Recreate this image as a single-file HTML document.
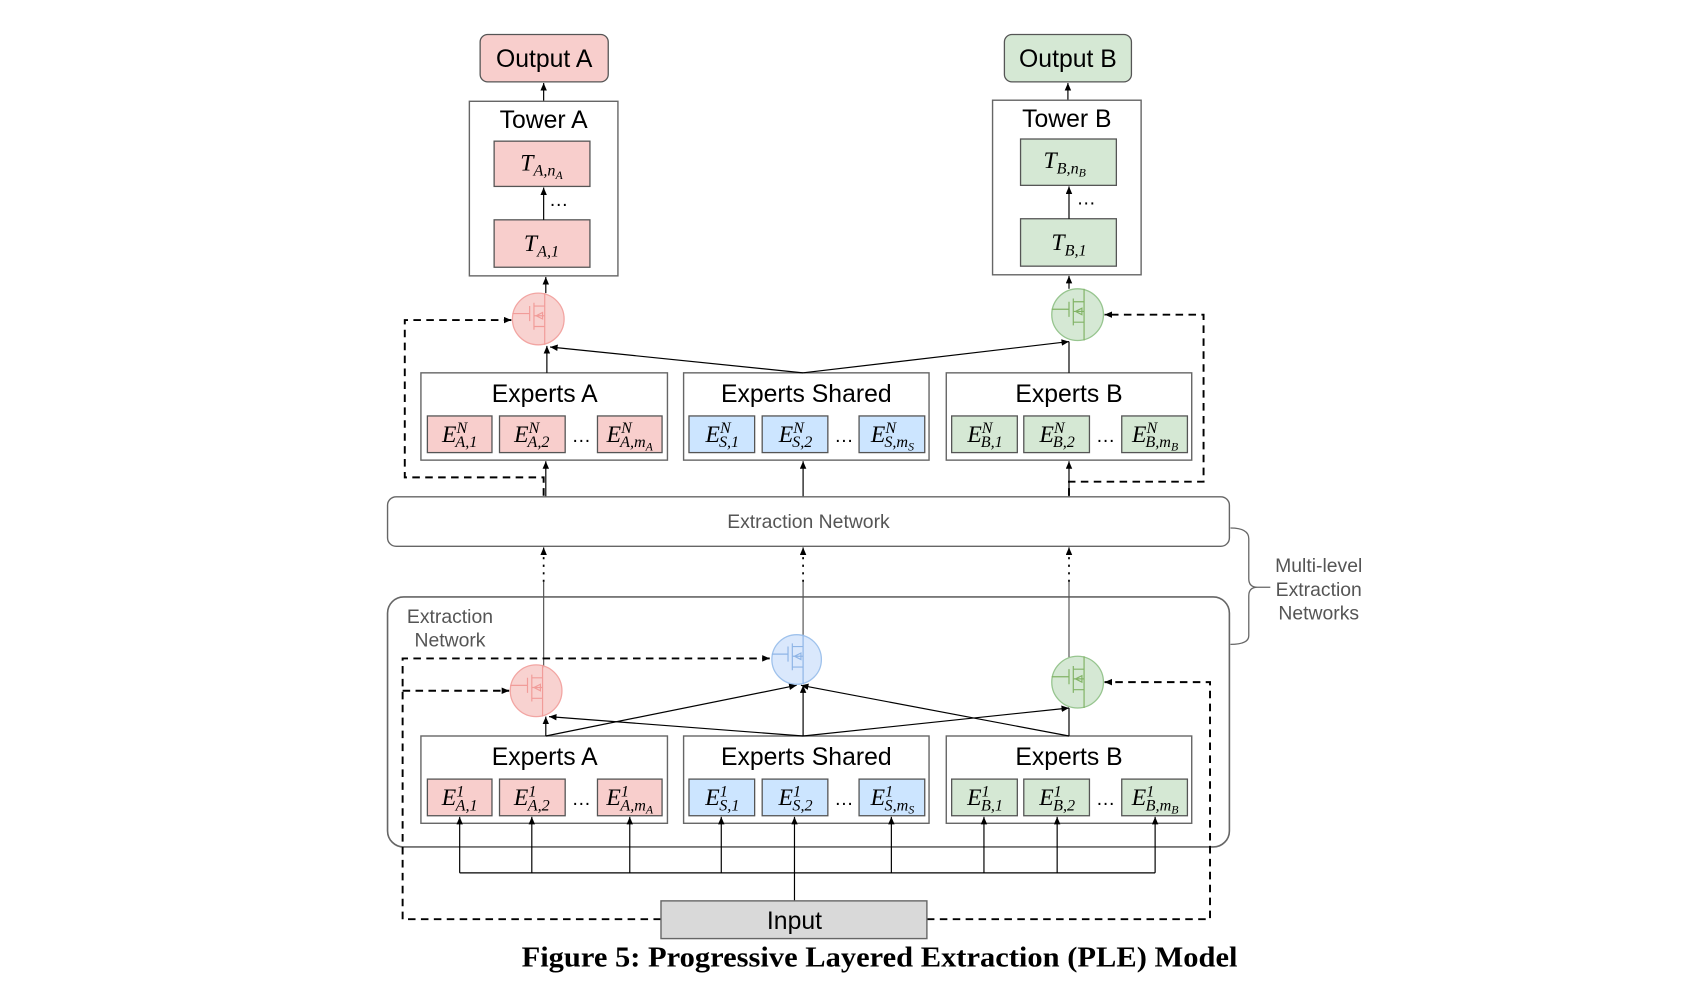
<!DOCTYPE html>
<html><head><meta charset="utf-8"><style>
html,body{margin:0;padding:0;background:#fff;width:1688px;height:986px;overflow:hidden}
svg{display:block}
.t{font-family:"Liberation Sans",sans-serif;font-size:23px;fill:#000;text-anchor:middle}
.g{font-family:"Liberation Sans",sans-serif;font-size:18px;fill:#555;text-anchor:middle}
.m{font-family:"Liberation Serif",serif;font-style:italic;font-size:22px;text-anchor:middle;fill:#000}
.s{font-size:15px}
.box{fill:#fff;stroke:#666;stroke-width:1.3}
.pk{fill:#f8cecc;stroke:#555;stroke-width:1.2}
.gr{fill:#d5e8d4;stroke:#555;stroke-width:1.2}
.bl{fill:#cce5ff;stroke:#555;stroke-width:1.2}
.l{stroke:#000;stroke-width:1.1;fill:none}
.a{stroke:#000;stroke-width:1.1;fill:none;marker-end:url(#ah)}
.d{stroke:#000;stroke-width:1.8;fill:none;stroke-dasharray:7 5}
.da{stroke:#000;stroke-width:1.8;fill:none;stroke-dasharray:7 5;marker-end:url(#ah2)}
.dot{stroke:#000;stroke-width:1.6;fill:none;stroke-dasharray:2 5}
</style></head><body>
<svg width="1688" height="986" viewBox="0 0 1568 915" preserveAspectRatio="none" xmlns="http://www.w3.org/2000/svg">
<defs>
<marker id="ah" markerWidth="8" markerHeight="8" refX="7" refY="3" orient="auto" markerUnits="userSpaceOnUse"><path d="M0,0 L7,3 L0,6z" fill="#000"/></marker>
<marker id="ah2" markerWidth="8" markerHeight="8" refX="7" refY="3" orient="auto" markerUnits="userSpaceOnUse"><path d="M0,0 L7,3 L0,6z" fill="#000"/></marker>
<g id="gp"><circle r="24" fill="#f8cecc" stroke="#f19c99" stroke-width="1.2" opacity="0.9"/><path d="M-24,-5 H-8 M-8,-12 V2 M-4,-15 V10 M-4,-12 H6 V-24 M-4,7 H6 V24 M6,-12 V7 M-4,-3 H6 M-2,-3 L4,-6 V0z" stroke="#f19c99" fill="none" stroke-width="1.1"/></g>
<g id="gg"><circle r="24" fill="#d5e8d4" stroke="#97c58f" stroke-width="1.2"/><path d="M-24,-5 H-8 M-8,-12 V2 M-4,-15 V10 M-4,-12 H6 V-24 M-4,7 H6 V24 M6,-12 V7 M-4,-3 H6 M-2,-3 L4,-6 V0z" stroke="#82b366" fill="none" stroke-width="1.1"/></g>
<g id="gb"><circle r="23" fill="#dae8fc" stroke="#9fc2ec" stroke-width="1.2"/><path d="M-23,-5 H-8 M-8,-12 V2 M-4,-15 V10 M-4,-12 H6 V-23 M-4,7 H6 V23 M6,-12 V7 M-4,-3 H6 M-2,-3 L4,-6 V0z" stroke="#8fb5e6" fill="none" stroke-width="1.1"/></g>
</defs>

<rect x="446" y="32" width="119" height="44" rx="7" class="pk"/>
<text x="505.5" y="62" class="t">Output A</text>
<rect x="933" y="32" width="118" height="44" rx="7" class="gr"/>
<text x="992" y="62" class="t">Output B</text>
<line x1="505" y1="94" x2="505" y2="77" class="a"/>
<line x1="992" y1="93" x2="992" y2="77" class="a"/>

<rect x="436" y="94" width="138" height="162" class="box"/>
<text x="505" y="119" class="t">Tower A</text>
<rect x="459" y="131" width="89" height="42" class="pk"/>
<text x="503" y="158" class="m">T<tspan class="s" dy="5">A,n</tspan><tspan font-size="11" dy="3">A</tspan></text>
<text x="519" y="191" class="t" style="font-size:18px">…</text>
<rect x="459" y="204" width="89" height="44" class="pk"/>
<text x="503" y="233" class="m">T<tspan class="s" dy="5">A,1</tspan></text>
<line x1="505" y1="204" x2="505" y2="174" class="a"/>

<rect x="922" y="93" width="138" height="162" class="box"/>
<text x="991" y="118" class="t">Tower B</text>
<rect x="948" y="129" width="89" height="43" class="gr"/>
<text x="989" y="156" class="m">T<tspan class="s" dy="5">B,n</tspan><tspan font-size="11" dy="3">B</tspan></text>
<text x="1009" y="190" class="t" style="font-size:18px">…</text>
<rect x="948" y="203" width="89" height="44" class="gr"/>
<text x="993" y="232" class="m">T<tspan class="s" dy="5">B,1</tspan></text>
<line x1="993" y1="203" x2="993" y2="173" class="a"/>

<line x1="507" y1="272" x2="507" y2="257" class="a"/>
<line x1="993" y1="268" x2="993" y2="256" class="a"/>
<use href="#gp" x="500" y="296"/>
<use href="#gg" x="1001" y="292"/>

<rect x="391" y="346" width="229" height="81" class="box"/>
<text x="506" y="373" class="t">Experts A</text>
<rect x="635" y="346" width="228" height="81" class="box"/>
<text x="749" y="373" class="t">Experts Shared</text>
<rect x="879" y="346" width="228" height="81" class="box"/>
<text x="993" y="373" class="t">Experts B</text>

<rect x="397" y="386" width="60" height="34" class="pk"/>
<rect x="464" y="386" width="61" height="34" class="pk"/>
<rect x="555" y="386" width="60" height="34" class="pk"/>
<rect x="640" y="386" width="61" height="34" class="bl"/>
<rect x="708" y="386" width="61" height="34" class="bl"/>
<rect x="798" y="386" width="61" height="34" class="bl"/>
<rect x="884" y="386" width="61" height="34" class="gr"/>
<rect x="951" y="386" width="61" height="34" class="gr"/>
<rect x="1042" y="386" width="61" height="34" class="gr"/>
<g class="m">
<text x="427" y="410">E<tspan class="s" dy="-8">N</tspan><tspan class="s" dx="-11" dy="13">A,1</tspan></text>
<text x="494" y="410">E<tspan class="s" dy="-8">N</tspan><tspan class="s" dx="-11" dy="13">A,2</tspan></text>
<text x="585" y="410">E<tspan class="s" dy="-8">N</tspan><tspan class="s" dx="-11" dy="13">A,m</tspan><tspan font-size="11" dy="3">A</tspan></text>
<text x="671" y="410">E<tspan class="s" dy="-8">N</tspan><tspan class="s" dx="-11" dy="13">S,1</tspan></text>
<text x="739" y="410">E<tspan class="s" dy="-8">N</tspan><tspan class="s" dx="-11" dy="13">S,2</tspan></text>
<text x="829" y="410">E<tspan class="s" dy="-8">N</tspan><tspan class="s" dx="-11" dy="13">S,m</tspan><tspan font-size="11" dy="3">S</tspan></text>
<text x="915" y="410">E<tspan class="s" dy="-8">N</tspan><tspan class="s" dx="-11" dy="13">B,1</tspan></text>
<text x="982" y="410">E<tspan class="s" dy="-8">N</tspan><tspan class="s" dx="-11" dy="13">B,2</tspan></text>
<text x="1073" y="410">E<tspan class="s" dy="-8">N</tspan><tspan class="s" dx="-11" dy="13">B,m</tspan><tspan font-size="11" dy="3">B</tspan></text>
</g>
<text x="540" y="410" class="t" style="font-size:18px">…</text>
<text x="784" y="410" class="t" style="font-size:18px">…</text>
<text x="1027" y="410" class="t" style="font-size:18px">…</text>

<line x1="508" y1="346" x2="508" y2="321" class="a"/>
<line x1="746" y1="346" x2="511" y2="322" class="a"/>
<line x1="746" y1="346" x2="993" y2="317" class="a"/>
<line x1="993" y1="346" x2="993" y2="317" class="l"/>
<line x1="507" y1="461" x2="507" y2="428" class="a"/>
<line x1="746" y1="461" x2="746" y2="428" class="a"/>
<line x1="993" y1="461" x2="993" y2="428" class="a"/>
<path d="M505,460 V443 H376 V297 H475" class="da"/>
<path d="M993,460 V447 H1118 V292 H1026" class="da"/>

<rect x="360" y="461" width="782" height="46" rx="8" fill="#fff" stroke="#666" stroke-width="1.3"/>
<text x="751" y="490" class="g">Extraction Network</text>

<line x1="505" y1="540" x2="505" y2="514" class="dot"/>
<line x1="505" y1="514" x2="505" y2="508" class="a"/>
<line x1="746" y1="540" x2="746" y2="514" class="dot"/>
<line x1="746" y1="514" x2="746" y2="508" class="a"/>
<line x1="993" y1="540" x2="993" y2="514" class="dot"/>
<line x1="993" y1="514" x2="993" y2="508" class="a"/>

<path d="M1143,490 Q1160,490 1160,500 V537 Q1160,545 1168,545 H1180 M1168,545 Q1160,545 1160,553 V590 Q1160,598 1143,598" style="stroke:#666;fill:none;stroke-width:1.2"/>
<text x="1225" y="531" class="g">Multi-level</text>
<text x="1225" y="553" class="g">Extraction</text>
<text x="1225" y="575" class="g">Networks</text>

<rect x="360" y="554" width="782" height="232" rx="15" fill="none" stroke="#666" stroke-width="1.5"/>
<text x="418" y="578" class="g">Extraction</text>
<text x="418" y="600" class="g">Network</text>

<line x1="505" y1="620" x2="505" y2="540" stroke="#555" stroke-width="1.1"/>
<line x1="746" y1="590" x2="746" y2="540" stroke="#555" stroke-width="1.1"/>
<line x1="993" y1="611" x2="993" y2="540" stroke="#555" stroke-width="1.1"/>

<use href="#gp" x="498" y="641"/>
<use href="#gb" x="740" y="612"/>
<use href="#gg" x="1001" y="633"/>

<rect x="391" y="683" width="229" height="81" class="box"/>
<text x="506" y="710" class="t">Experts A</text>
<rect x="635" y="683" width="228" height="81" class="box"/>
<text x="749" y="710" class="t">Experts Shared</text>
<rect x="879" y="683" width="228" height="81" class="box"/>
<text x="993" y="710" class="t">Experts B</text>

<rect x="397" y="723" width="60" height="34" class="pk"/>
<rect x="464" y="723" width="61" height="34" class="pk"/>
<rect x="555" y="723" width="60" height="34" class="pk"/>
<rect x="640" y="723" width="61" height="34" class="bl"/>
<rect x="708" y="723" width="61" height="34" class="bl"/>
<rect x="798" y="723" width="61" height="34" class="bl"/>
<rect x="884" y="723" width="61" height="34" class="gr"/>
<rect x="951" y="723" width="61" height="34" class="gr"/>
<rect x="1042" y="723" width="61" height="34" class="gr"/>
<g class="m">
<text x="427" y="747">E<tspan class="s" dy="-8">1</tspan><tspan class="s" dx="-8" dy="13">A,1</tspan></text>
<text x="494" y="747">E<tspan class="s" dy="-8">1</tspan><tspan class="s" dx="-8" dy="13">A,2</tspan></text>
<text x="585" y="747">E<tspan class="s" dy="-8">1</tspan><tspan class="s" dx="-8" dy="13">A,m</tspan><tspan font-size="11" dy="3">A</tspan></text>
<text x="671" y="747">E<tspan class="s" dy="-8">1</tspan><tspan class="s" dx="-8" dy="13">S,1</tspan></text>
<text x="739" y="747">E<tspan class="s" dy="-8">1</tspan><tspan class="s" dx="-8" dy="13">S,2</tspan></text>
<text x="829" y="747">E<tspan class="s" dy="-8">1</tspan><tspan class="s" dx="-8" dy="13">S,m</tspan><tspan font-size="11" dy="3">S</tspan></text>
<text x="915" y="747">E<tspan class="s" dy="-8">1</tspan><tspan class="s" dx="-8" dy="13">B,1</tspan></text>
<text x="982" y="747">E<tspan class="s" dy="-8">1</tspan><tspan class="s" dx="-8" dy="13">B,2</tspan></text>
<text x="1073" y="747">E<tspan class="s" dy="-8">1</tspan><tspan class="s" dx="-8" dy="13">B,m</tspan><tspan font-size="11" dy="3">B</tspan></text>
</g>
<text x="540" y="747" class="t" style="font-size:18px">…</text>
<text x="784" y="747" class="t" style="font-size:18px">…</text>
<text x="1027" y="747" class="t" style="font-size:18px">…</text>

<line x1="507" y1="683" x2="507" y2="665" class="a"/>
<line x1="507" y1="683" x2="740" y2="636" class="a"/>
<line x1="746" y1="683" x2="510" y2="665" class="a"/>
<line x1="746" y1="683" x2="746" y2="636" class="a"/>
<line x1="746" y1="683" x2="993" y2="657" class="a"/>
<line x1="993" y1="683" x2="744" y2="636" class="a"/>
<line x1="993" y1="683" x2="993" y2="657" class="l"/>

<path d="M614,853 H374 V611 H715" class="da"/>
<path d="M374,641 H473" class="da"/>
<path d="M861,853 H1124 V633 H1026" class="da"/>

<line x1="427" y1="810" x2="1073" y2="810" class="l"/>
<line x1="427" y1="810" x2="427" y2="758" class="a"/>
<line x1="494" y1="810" x2="494" y2="758" class="a"/>
<line x1="585" y1="810" x2="585" y2="758" class="a"/>
<line x1="670" y1="810" x2="670" y2="758" class="a"/>
<line x1="738" y1="836" x2="738" y2="758" class="a"/>
<line x1="828" y1="810" x2="828" y2="758" class="a"/>
<line x1="914" y1="810" x2="914" y2="758" class="a"/>
<line x1="982" y1="810" x2="982" y2="758" class="a"/>
<line x1="1073" y1="810" x2="1073" y2="758" class="a"/>

<rect x="614" y="836" width="247" height="35" fill="#d9d9d9" stroke="#666" stroke-width="1.3"/>
<text x="738" y="862" class="t">Input</text>

<text x="817" y="897" font-family="Liberation Serif, serif" font-weight="bold" font-size="26" text-anchor="middle" textLength="665" lengthAdjust="spacingAndGlyphs">Figure 5: Progressive Layered Extraction (PLE) Model</text>
</svg>
</body></html>
